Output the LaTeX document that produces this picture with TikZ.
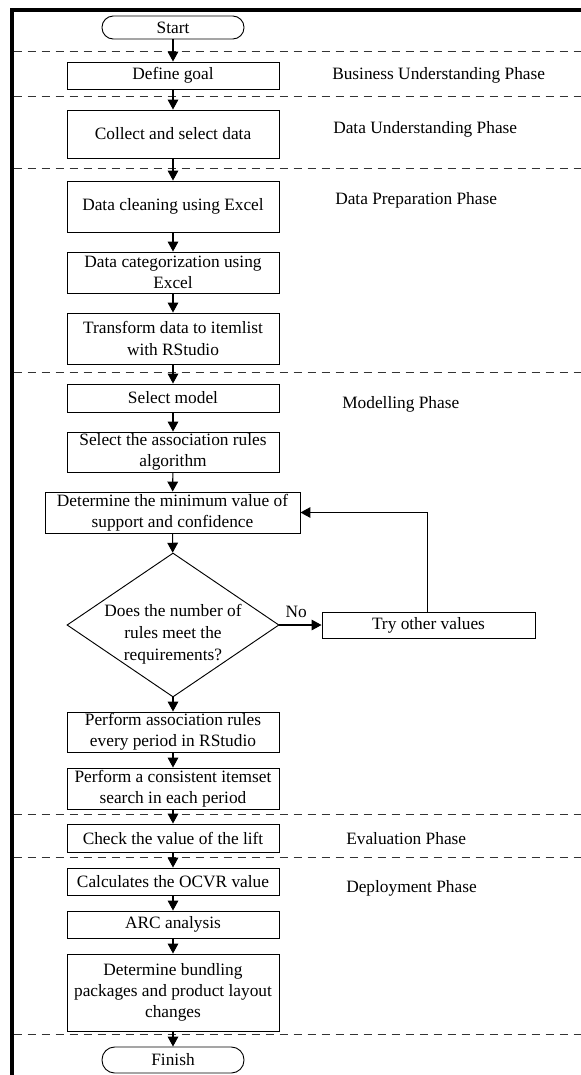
\documentclass[tikz,border=0pt]{standalone}
\usepackage{fontspec}
\setmainfont{Liberation Serif}
\usetikzlibrary{arrows.meta,shapes.geometric}
\begin{document}
\begin{tikzpicture}[x=0.75pt,y=-0.75pt,
  every node/.style={font=\fontsize{13pt}{15.8pt}\selectfont},
  box/.style={draw, line width=0.7pt, rectangle, minimum width=159pt, inner sep=0pt, align=center},
  term/.style={draw, line width=0.7pt, rounded corners=8.5pt, minimum width=106.5pt, inner sep=0pt, align=center},
  arr/.style={line width=0.8pt, -{Triangle[length=7.5pt,width=8pt]}},
  phaseline/.style={dash pattern=on 6.5pt off 4pt, line width=0.75pt, black!80},
  phase/.style={anchor=west, inner sep=0pt}
]
\useasboundingbox (0,0) rectangle (581,1075);
% frame
\draw[line width=2.3pt] (12,1075) -- (12,10) -- (581,10);
% phase separators
\foreach \yy in {51,96,168,372,814,857,1034}
  \draw[phaseline] (13.5,\yy) -- (581,\yy);

% nodes
\node[term, minimum height=17.25pt] (start) at (173,27.5) {Start};
\node[box, minimum height=20.25pt] (goal) at (173,75.5) {Define goal};
\node[box, minimum height=36pt] (collect) at (173,134) {Collect and select data};
\node[box, minimum height=38.25pt] (clean) at (173,206.5) {Data cleaning using Excel};
\node[box, minimum height=30.75pt] (categ) at (173,272.5) {Data categorization using\\Excel};
\node[box, minimum height=38.25pt] (transform) at (173,338.5) {Transform data to itemlist\\with RStudio};
\node[box, minimum height=21pt] (model) at (173,398) {Select model};
\node[box, minimum height=30pt] (algo) at (173,452) {Select the association rules\\algorithm};
\node[box, minimum width=191.25pt, minimum height=30.75pt] (minval) at (172.5,512.5) {Determine the minimum value of\\support and confidence};
\node[diamond, draw, line width=0.7pt, minimum width=159pt, minimum height=108pt, inner sep=0pt] (dec) at (173,625) {};
\node[align=center, inner sep=0pt, font=\fontsize{13pt}{16.5pt}\selectfont] (dectext) at (173,634) {Does the number of\\rules meet the\\requirements?};
\node[box, minimum width=159.75pt, minimum height=19.5pt] (try) at (428.5,625) {Try other values};
\node[box, minimum height=30pt] (perform) at (173,732) {Perform association rules\\every period in RStudio};
\node[box, minimum height=30.75pt] (consist) at (173,788.5) {Perform a consistent itemset\\search in each period};
\node[box, minimum height=21pt] (lift) at (173,838) {Check the value of the lift};
\node[box, minimum height=20.25pt] (ocvr) at (173,881.5) {Calculates the OCVR value};
\node[box, minimum height=20.25pt] (arc) at (173,924.5) {ARC analysis};
\node[box, minimum height=57.75pt] (bundle) at (173,992.5) {Determine bundling\\packages and product layout\\changes};
\node[term, minimum height=19.5pt, rounded corners=9.5pt] (finish) at (173,1060) {Finish};

% phase labels
\node[phase] (p1) at (332,75) {Business Understanding Phase};
\node[phase] (p2) at (333,129) {Data Understanding Phase};
\node[phase] (p3) at (335,200) {Data Preparation Phase};
\node[phase] (p4) at (342,404) {Modelling Phase};
\node[phase] (p5) at (346,839) {Evaluation Phase};
\node[phase] (p6) at (346,888) {Deployment Phase};

% connectors
\draw[arr] (start) -- (goal);
\draw[arr] (goal) -- (collect);
\draw[arr] (collect) -- (clean);
\draw[arr] (clean) -- (categ);
\draw[arr] (categ) -- (transform);
\draw[arr] (transform) -- (model);
\draw[arr] (model) -- (algo);
\draw[arr] (algo) -- (minval);
\draw[arr] (minval) -- (dec);
\draw[arr] (dec.east) -- node[above=5pt, pos=0.4, inner sep=0pt] (no) {No} (try.west);
\draw[arr] ([xshift=-1pt]try.north) |- (minval.east);
\draw[arr] (dec.south) -- (perform);
\draw[arr] (perform) -- (consist);
\draw[arr] (consist) -- (lift);
\draw[arr] (lift) -- (ocvr);
\draw[arr] (ocvr) -- (arc);
\draw[arr] (arc) -- (bundle);
\draw[arr] (bundle) -- (finish);
\end{tikzpicture}
\end{document}
